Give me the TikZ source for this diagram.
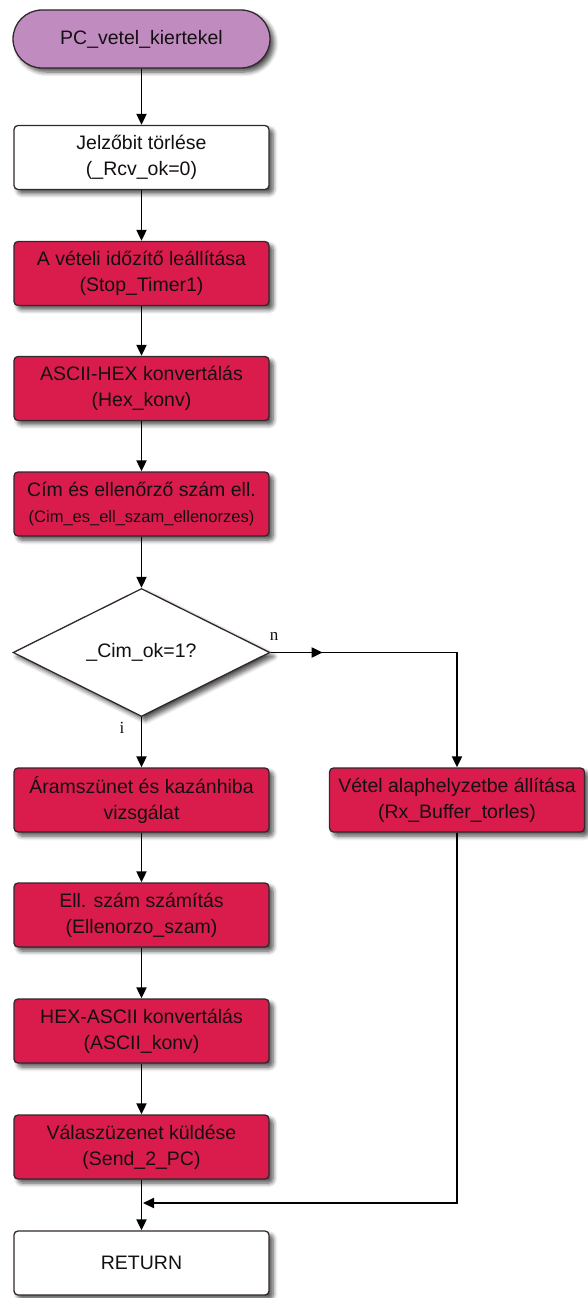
\documentclass[tikz,border=0pt]{standalone}
\usepackage{fontspec}
\setmainfont{Liberation Sans}
\newfontfamily\labelfont{Liberation Serif}
\usetikzlibrary{shapes.geometric,arrows.meta,shadows.blur,decorations.markings,calc}

\definecolor{procred}{RGB}{218,28,76}
\definecolor{termpurple}{RGB}{192,140,192}
\definecolor{edgegray}{RGB}{50,40,45}
\definecolor{txt}{RGB}{20,15,18}

\tikzset{
  shade/.style={blur shadow={shadow xshift=4pt,shadow yshift=-4pt,shadow blur steps=6,shadow blur radius=4.5pt,shadow opacity=70}},
  base/.style={draw=edgegray,line width=1.3pt,text=txt,inner sep=0pt,align=center,
    font=\fontsize{19.5}{26}\selectfont,shade},
  procbox/.style={base,rectangle,rounded corners=4pt,fill=procred,minimum width=255pt,minimum height=64pt},
  plainbox/.style={base,rectangle,rounded corners=4pt,fill=white,minimum width=255pt,minimum height=64pt},
  termbox/.style={base,rectangle,rounded corners=29pt,fill=termpurple,minimum width=257pt,minimum height=58pt},
  decbox/.style={base,diamond,fill=white,minimum width=257pt,minimum height=128pt},
  flow/.style={line width=1.9pt,draw=black,-{Triangle[length=11pt,width=10pt]}},
  branchlabel/.style={font=\labelfont\fontsize{17}{17}\selectfont,text=txt,inner sep=0pt}
}

\begin{document}
\begin{tikzpicture}[x=1pt,y=-1pt]
\useasboundingbox (0,0) rectangle (588,1298);

% main column
\node[termbox]  (start)  at (141.5,39)   {PC\_vetel\_kiertekel};
\node[plainbox] (jelz)   at (141.5,157.5){Jelzőbit törlése\\(\_Rcv\_ok=0)};
\node[procbox]  (stop)   at (141.5,273.5){A vételi időzítő leállítása\\(Stop\_Timer1)};
\node[procbox]  (hexk)   at (141.5,388.5){ASCII-HEX konvertálás\\(Hex\_konv)};
\node[procbox]  (cim)    at (141.5,504)  {Cím és ellenőrző szám ell.\\{\fontsize{16.5}{22}\selectfont(Cim\_es\_ell\_szam\_ellenorzes)}};
\node[decbox]   (dec)    at (141.5,652.5){\_Cim\_ok=1?};
\node[procbox]  (aram)   at (141.5,800)  {Áramszünet és kazánhiba\\vizsgálat};
\node[procbox]  (ell)    at (141.5,915)  {Ell. szám számítás\\(Ellenorzo\_szam)};
\node[procbox]  (asck)   at (141.5,1031) {HEX-ASCII konvertálás\\(ASCII\_konv)};
\node[procbox]  (valasz) at (141.5,1147) {Válaszüzenet küldése\\(Send\_2\_PC)};
\node[plainbox] (ret)    at (141.5,1263) {RETURN};

% side branch
\node[procbox]  (vetel)  at (457,800)    {Vétel alaphelyzetbe állítása\\(Rx\_Buffer\_torles)};

% branch labels
\node[branchlabel] (lbln) at (274,636) {n};
\node[branchlabel] (lbli) at (122,728) {i};

% connectors
\draw[flow] (start) -- (jelz);
\draw[flow] (jelz) -- (stop);
\draw[flow] (stop) -- (hexk);
\draw[flow] (hexk) -- (cim);
\draw[flow] (cim) -- (dec);
\draw[flow] (dec.south) -- (aram);
\draw[flow] (aram) -- (ell);
\draw[flow] (ell) -- (asck);
\draw[flow] (asck) -- (valasz);
\draw[flow] (valasz) -- (ret);

\draw[flow,postaction={decorate},
  decoration={markings,mark=at position 52pt with {\arrow{Triangle[length=11pt,width=10pt]}}}]
  (dec.east) -| (vetel.north);

\coordinate (join) at (143,1203);
\draw[flow] (vetel.south) |- (join);
\end{tikzpicture}
\end{document}
